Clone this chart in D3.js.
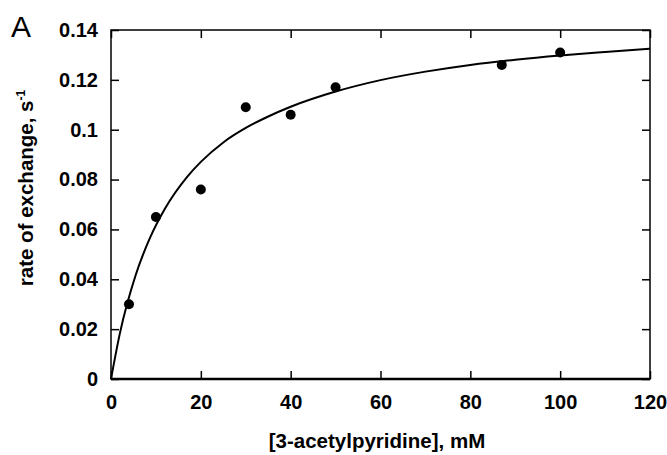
<!DOCTYPE html>
<html>
<head>
<meta charset="utf-8">
<script src="https://cdn.jsdelivr.net/npm/d3@7"></script>
<style>
  body { margin: 0; background: #fff; }
  svg { display: block; font-family: "Liberation Sans", Arial, Helvetica, sans-serif; }
</style>
</head>
<body>
<svg></svg>
<script>
const svgWidth = 667;
const svgHeight = 455;
const margin = {top: 30, right: 17, bottom: 76, left: 111};

// measured points
const conc = [4, 10, 20, 30, 40, 50, 87, 100];
const rate = [0.030, 0.065, 0.076, 0.109, 0.106, 0.117, 0.126, 0.131];

// fitted curve
const fitX = [0, 2, 5.5, 8.7, 12, 17, 20, 25, 30, 35, 40, 50, 60, 70, 80, 90, 100, 110, 120];
const fitY = [0, 0.0185, 0.0417, 0.0567, 0.0683, 0.0812, 0.0871, 0.0949, 0.1007, 0.1053,
              0.1092, 0.1153, 0.1199, 0.1233, 0.1260, 0.1281, 0.1298, 0.1312, 0.1325];

const xTicks = [0, 20, 40, 60, 80, 100, 120];
const yTicks = [0, 0.02, 0.04, 0.06, 0.08, 0.1, 0.12, 0.14];
const yTickLabels = ["0", "0.02", "0.04", "0.06", "0.08", "0.1", "0.12", "0.14"];

const svg = d3.select("svg")
        .attr("width", svgWidth)
        .attr("height", svgHeight);

const xScale = d3.scaleLinear()
        .domain([0, 120])
        .range([margin.left, svgWidth - margin.right]);
const yScale = d3.scaleLinear()
        .domain([0, 0.14])
        .range([svgHeight - margin.bottom, margin.top]);

const tickLen = 8;

// axes (inward ticks)
const xAxis = d3.axisBottom(xScale)
        .tickValues(xTicks)
        .tickSize(-tickLen)
        .tickSizeOuter(0)
        .tickPadding(16);
const yAxis = d3.axisLeft(yScale)
        .tickValues(yTicks)
        .tickSize(-tickLen)
        .tickSizeOuter(0)
        .tickPadding(13)
        .tickFormat((d, i) => yTickLabels[i]);

const gx = svg.append("g")
        .attr("transform", `translate(0, ${yScale(0)})`)
        .call(xAxis);
const gy = svg.append("g")
        .attr("transform", `translate(${xScale(0)}, 0)`)
        .call(yAxis);

// mirrored ticks on top and right
svg.append("g")
        .attr("transform", `translate(0, ${yScale(0.14)})`)
        .call(d3.axisTop(xScale).tickValues(xTicks).tickSize(-tickLen).tickSizeOuter(0).tickFormat(""));
svg.append("g")
        .attr("transform", `translate(${xScale(120)}, 0)`)
        .call(d3.axisRight(yScale).tickValues(yTicks).tickSize(-tickLen).tickSizeOuter(0).tickFormat(""));

svg.selectAll(".domain").remove();
svg.selectAll(".tick line").attr("stroke", "#000").attr("stroke-width", 1.5);
svg.selectAll(".tick text")
        .attr("font-size", "20px")
        .attr("font-weight", "bold")
        .attr("fill", "#000");
gx.selectAll(".tick text").attr("dy", "0.71em");

// frame
svg.append("rect")
        .attr("x", xScale(0))
        .attr("y", yScale(0.14))
        .attr("width", xScale(120) - xScale(0))
        .attr("height", yScale(0) - yScale(0.14))
        .attr("fill", "none")
        .attr("stroke", "#000")
        .attr("stroke-width", 1.5);
svg.append("line")
        .attr("x1", xScale(0)).attr("x2", xScale(120))
        .attr("y1", yScale(0)).attr("y2", yScale(0))
        .attr("stroke", "#000").attr("stroke-width", 2.5);

// fitted curve
const line = d3.line()
        .x((d, i) => xScale(fitX[i]))
        .y(d => yScale(d))
        .curve(d3.curveMonotoneX);
svg.append("path")
        .datum(fitY)
        .attr("d", line)
        .attr("fill", "none")
        .attr("stroke", "#000")
        .attr("stroke-width", 2);

// points
svg.selectAll("circle")
        .data(rate)
        .enter()
        .append("circle")
        .attr("cx", (d, i) => xScale(conc[i]))
        .attr("cy", d => yScale(d))
        .attr("r", 5)
        .attr("fill", "#000");

// axis titles
svg.append("text")
        .text("[3-acetylpyridine], mM")
        .attr("x", 377)
        .attr("y", 448)
        .attr("text-anchor", "middle")
        .attr("font-size", "20.5px")
        .attr("font-weight", "bold");

const yTitle = svg.append("text")
        .attr("transform", `translate(33, 188) rotate(-90)`)
        .attr("text-anchor", "middle")
        .attr("font-size", "20.5px")
        .attr("font-weight", "bold");
yTitle.append("tspan").text("rate of exchange, s");
yTitle.append("tspan").text("-1").attr("font-size", "12px").attr("dy", "-0.7em");

// panel letter
svg.append("text")
        .text("A")
        .attr("x", 11)
        .attr("y", 37)
        .attr("font-size", "30px");
</script>
</body>
</html>
